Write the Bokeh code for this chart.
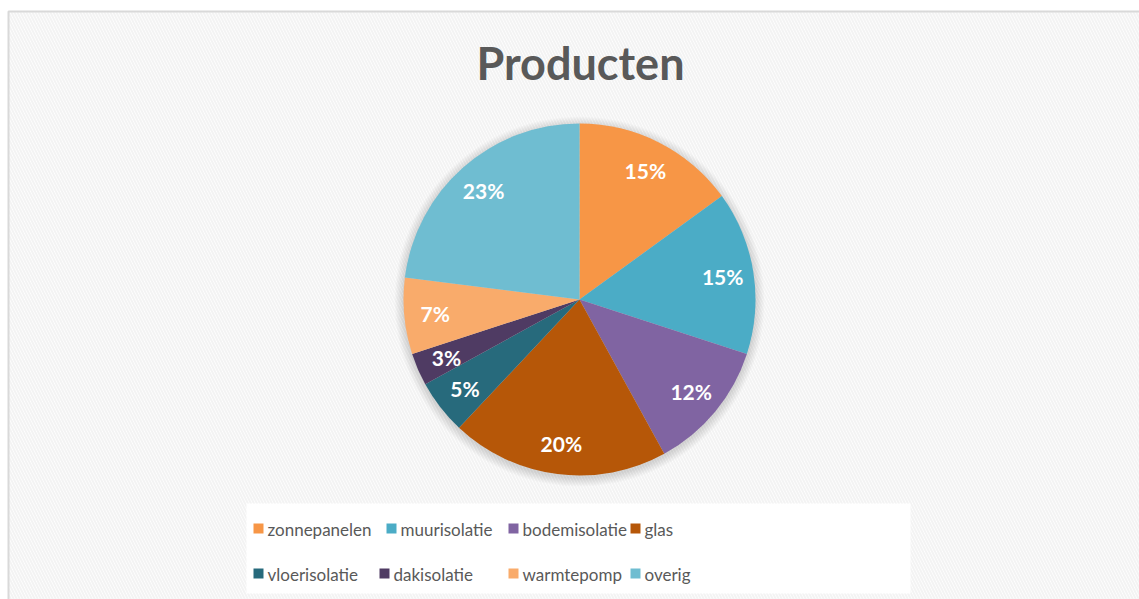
import numpy as np
from bokeh.plotting import figure
from bokeh.models import Range1d, ColumnDataSource
from bokeh.core.properties import value
from bokeh.embed import file_html
from bokeh.resources import INLINE

# ---- data ----
categories = ["zonnepanelen", "muurisolatie", "bodemisolatie", "glas",
              "vloerisolatie", "dakisolatie", "warmtepomp", "overig"]
values = [15, 15, 12, 20, 5, 3, 7, 23]
colors = ["#F79646", "#4BACC6", "#8064A2", "#B65708",
          "#276A7C", "#4F3B63", "#F9AB6B", "#6FBDD1"]
title_text = "Producten"

# ---- layout ----
W, H = 1139, 599
def Y(py):
    return H - py

p = figure(width=W, height=H, x_range=Range1d(0, W), y_range=Range1d(0, H),
           output_backend="svg", toolbar_location=None, min_border=0)
p.axis.visible = False
p.grid.visible = False
p.outline_line_color = None
p.background_fill_color = "white"
p.border_fill_color = "white"

# chart area with hatched background
p.quad(left=[8], right=[1160], top=[Y(11)], bottom=[Y(640)], fill_color="white",
       hatch_pattern="\\", hatch_color="#f3f3f3", hatch_scale=6, hatch_weight=2,
       line_color="#d9d9d9", line_width=2)

# pie
cx, cy, r = 579, Y(299), 176
vals = np.array(values, dtype=float)
frac = vals / vals.sum()
cum_end = np.cumsum(frac)
cum_start = cum_end - frac
start = np.pi / 2 - 2 * np.pi * cum_end
end = np.pi / 2 - 2 * np.pi * cum_start
mid = np.pi / 2 - 2 * np.pi * (cum_start + frac / 2)
lab_r = 145
src = ColumnDataSource(dict(
    start=start, end=end, color=colors, name=categories,
    lx=cx + lab_r * np.cos(mid), ly=cy + lab_r * np.sin(mid),
    lab=[f"{round(f * 100)}%" for f in frac]))

# soft shadow
for k in range(1, 10):
    p.circle(x=[cx], y=[cy - 2], radius=r + k, fill_color="black", fill_alpha=0.016,
             line_color=None)

p.wedge(x=cx, y=cy, radius=r, start_angle="start", end_angle="end",
        fill_color="color", line_color=None, source=src)
p.text(x="lx", y="ly", text="lab", source=src, text_font=value("Lato"),
       text_font_style="bold", text_font_size="21px", text_color="white",
       text_align="center", text_baseline="middle")

# title
p.text(x=[580], y=[Y(62)], text=[title_text], text_font=value("Lato"),
       text_font_style="bold", text_font_size="45px", text_color="#595959",
       text_align="center", text_baseline="middle")

# legend
p.quad(left=[246], right=[910], top=[Y(503)], bottom=[Y(593)], fill_color="white",
       line_color=None)
leg_left = [253, 386, 508, 630, 253, 379, 508, 630]
leg_row = [528, 528, 528, 528, 573, 573, 573, 573]
mx = [l + 5 for l in leg_left]
my = [Y(y) for y in leg_row]
p.rect(x=mx, y=my, width=10, height=10, fill_color=colors, line_color=None)
p.text(x=[l + 14 for l in leg_left], y=[Y(y + 1) for y in leg_row], text=categories,
       text_font=value("Lato"), text_font_size="17px", text_color="#595959",
       text_align="left", text_baseline="middle")

open("out.html", "w").write(file_html(p, INLINE))
